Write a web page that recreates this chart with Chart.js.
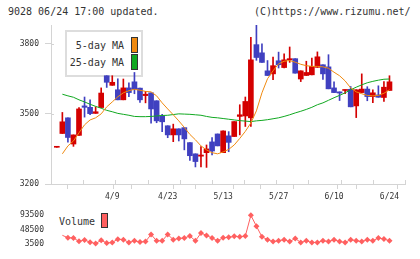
<!DOCTYPE html>
<html lang="en">
<head>
<meta charset="UTF-8">
<title>9028 chart</title>
<script src="https://cdn.jsdelivr.net/npm/chart.js"></script>
<style>
  body { margin: 0; width: 420px; height: 259px; overflow: hidden; position: relative; background: #fff;
         font-family: "DejaVu Sans Mono", monospace; color: #333; }
  .txt { position: absolute; font-size: 10px; line-height: 12px; white-space: nowrap; }
  .sw { position: absolute; box-sizing: border-box; border: 1px solid #333; }
  #legendBox { position: absolute; left: 65px; top: 30px; width: 78px; height: 47px; box-sizing: border-box; border: 2px solid #ddd; }
  #main { position: absolute; left: 0; top: 0; }
  #vol { position: absolute; left: 0; top: 200px; }
</style>
</head>
<body>
  <div class="txt" style="left:8px; top:6px;">9028 06/24 17:00 updated.</div>
  <div class="txt" style="left:254px; top:6px;">(C)https://www.rizumu.net/</div>

  <div id="legendBox"></div>
  <div class="txt" style="right:296px; top:40px;">5-day MA</div>
  <div class="sw" style="left:131px; top:37px; width:7px; height:16px; background:#f08a10;"></div>
  <div class="txt" style="right:296px; top:57px;">25-day MA</div>
  <div class="sw" style="left:131px; top:54px; width:7px; height:16px; background:#10a820;"></div>

  <div class="txt" style="left:59px; top:216px;">Volume</div>
  <div class="sw" style="left:101px; top:213px; width:7px; height:15px; background:#ff6060;"></div>

  <canvas id="main" width="420" height="205"></canvas>
  <canvas id="vol" width="420" height="59"></canvas>

<script>
// daily candles, oldest first
const open  = [3357,3416,3483,3371,3408,3534,3528,3502,3527,3663,3622,3603,3560,3611,3637,3610,3578,3590,3556,3491,
               3449,3410,3436,3441,3377,3329,3319,3334,3380,3414,3334,3406,3403,3489,3491,3483,3796,3761,3684,3671,
               3727,3698,3731,3736,3649,3664,3667,3699,3710,3701,3611,3594,3600,3605,3534,3591,3606,3574,3581,3570,3600];
const high  = [3358,3506,3483,3410,3527,3572,3560,3530,3611,3663,3663,3650,3649,3633,3677,3610,3596,3590,3556,3498,
               3449,3456,3436,3441,3377,3329,3360,3367,3399,3414,3427,3424,3467,3539,3572,3827,3880,3800,3728,3743,
               3764,3757,3786,3736,3684,3725,3739,3765,3710,3753,3637,3594,3603,3617,3603,3671,3616,3603,3620,3638,3663];
const low   = [3357,3416,3379,3361,3408,3486,3496,3502,3527,3613,3622,3560,3560,3574,3586,3549,3547,3460,3462,3424,
               3398,3381,3384,3346,3301,3273,3273,3271,3324,3363,3334,3338,3403,3410,3446,3446,3729,3720,3664,3646,
               3696,3696,3720,3674,3638,3664,3667,3699,3647,3607,3591,3557,3586,3530,3484,3591,3556,3548,3571,3553,3600];
const close = [3358,3466,3399,3410,3521,3528,3501,3509,3589,3635,3635,3560,3611,3591,3605,3560,3584,3521,3470,3466,
               3410,3436,3410,3393,3321,3296,3324,3350,3341,3363,3427,3378,3467,3496,3553,3731,3741,3720,3664,3706,
               3710,3731,3736,3674,3684,3677,3703,3744,3671,3607,3591,3589,3603,3530,3603,3606,3574,3590,3571,3614,3637];
const ma5   = [null,3329,3363,3384,3419,3453,3474,3483,3500,3530,3551,3573,3590,3599,3605,3601,3596,3594,3577,3547,
               3521,3496,3470,3442,3412,3389,3363,3346,3334,3329,3337,3348,3367,3395,3425,3461,3513,3590,3650,3684,
               3714,3725,3728,3721,3712,3706,3703,3703,3701,3695,3678,3663,3641,3611,3594,3586,3579,3577,3579,3588,3603];
const ma25  = [null,3584,3577,3571,3560,3551,3541,3532,3524,3515,3509,3502,3498,3494,3489,3488,3488,3489,3491,3493,
               3494,3497,3500,3499,3498,3496,3494,3489,3485,3483,3480,3477,3474,3471,3469,3467,3470,3472,3475,3479,
               3483,3489,3496,3504,3511,3519,3528,3539,3547,3558,3569,3579,3590,3603,3614,3624,3633,3639,3644,3648,3649];
const volume = [null,30000,22200,21500,10900,15400,8000,4000,14100,5750,7300,17700,16300,7300,12500,8700,10250,32750,12500,12500,
               32750,16300,19900,21500,27600,12500,37250,29800,21500,12500,22200,23750,26700,25300,27600,93500,59100,25300,16300,10250,
               12500,16300,10250,19900,7300,12500,7300,7300,12500,10250,16300,10250,7300,16300,12500,10250,16300,12500,21500,18600,12500];

const tickDays   = [10, 20, 30, 40, 50, 60];
const tickLabels = ['4/9', '4/23', '5/13', '5/27', '6/10', '6/24'];
const priceTicks = [3200, 3500, 3800];
const volTicks   = [3500, 48500, 93500];

const RED = '#d40000', BLUE = '#4040c0', GRID = '#d4d4d4';
const FONT = { family: 'DejaVu Sans Mono', size: 8 };
const xMin = -1.05, xMax = 62.8;
const gridPos = [];
for (let k = 0; k <= 11; k++) gridPos.push(xMin + k * (xMax - xMin) / 11);

const idx = open.map((_, i) => i);
const colors = idx.map(i => close[i] >= open[i] ? RED : BLUE);

// short tick marks also reach a bit inside the plot, like the original
const crossTicks = {
  id: 'crossTicks',
  afterDraw(chart) {
    const { ctx, chartArea, scales } = chart;
    ctx.save();
    ctx.strokeStyle = GRID;
    ctx.lineWidth = 1;
    if (scales.x.options.display) {
      gridPos.forEach(v => {
        const x = Math.round(scales.x.getPixelForValue(v)) + 0.5;
        ctx.beginPath(); ctx.moveTo(x, chartArea.bottom - 4); ctx.lineTo(x, chartArea.bottom); ctx.stroke();
      });
    }
    if (scales.y.options.border.display) {
      priceTicks.forEach(v => {
        const y = Math.round(scales.y.getPixelForValue(v)) + 0.5;
        ctx.beginPath(); ctx.moveTo(chartArea.left, y); ctx.lineTo(chartArea.left + 3, y); ctx.stroke();
      });
    }
    ctx.restore();
  }
};

new Chart(document.getElementById('main'), {
  type: 'bar',
  data: {
    datasets: [
      { type: 'line', label: '5-day MA', data: idx.map(i => ({ x: i, y: ma5[i] })),
        borderColor: '#f08a10', borderWidth: 1, pointRadius: 0, order: 0 },
      { type: 'line', label: '25-day MA', data: idx.map(i => ({ x: i, y: ma25[i] })),
        borderColor: '#10a820', borderWidth: 1, pointRadius: 0, order: 0 },
      { label: 'body', data: idx.map(i => ({ x: i, y: [open[i], close[i]] })),
        backgroundColor: colors, barThickness: 5, minBarLength: 1, grouped: false, order: 1 },
      { label: 'wick', data: idx.map(i => ({ x: i, y: [low[i], high[i]] })),
        backgroundColor: colors, barThickness: 1, grouped: false, order: 2 }
    ]
  },
  options: {
    responsive: false,
    animation: false,
    layout: { padding: { top: 25, right: 15, left: 0, bottom: 0 } },
    plugins: { legend: { display: false }, tooltip: { enabled: false } },
    scales: {
      x: {
        type: 'linear', min: xMin, max: xMax, offset: false,
        afterBuildTicks: s => {
          s.ticks = gridPos.map(v => ({ value: v })).concat(tickDays.map(v => ({ value: v })))
            .sort((a, b) => a.value - b.value);
        },
        afterFit: s => { s.height = 21; },
        ticks: {
          autoSkip: false, maxRotation: 0, padding: 3, font: FONT, color: '#333',
          callback: v => { const k = tickDays.indexOf(v); return k < 0 ? '' : tickLabels[k]; }
        },
        grid: {
          drawOnChartArea: false, tickLength: 5, lineWidth: 1,
          color: c => (c.tick && tickDays.includes(c.tick.value)) ? 'rgba(0,0,0,0)' : GRID
        },
        border: { color: GRID, width: 1 }
      },
      y: {
        min: 3200, max: 3880,
        afterBuildTicks: s => { s.ticks = priceTicks.map(v => ({ value: v })); },
        afterFit: s => { s.width = 51; },
        ticks: { padding: 6, font: FONT, color: '#333', callback: v => String(v) },
        grid: { drawOnChartArea: false, tickLength: 6, color: GRID },
        border: { color: GRID, width: 1 }
      }
    }
  },
  plugins: [crossTicks]
});

new Chart(document.getElementById('vol'), {
  type: 'line',
  data: {
    datasets: [{
      label: 'Volume', data: idx.map(i => ({ x: i, y: volume[i] })),
      borderColor: '#ff6060', borderWidth: 1,
      pointStyle: 'rectRot', pointRadius: c => c.dataIndex < 2 ? 0 : 3,
      pointBackgroundColor: '#ff6060', pointBorderWidth: 0
    }]
  },
  options: {
    responsive: false,
    animation: false,
    layout: { padding: { top: 4, right: 15, left: 0, bottom: 5 } },
    plugins: { legend: { display: false }, tooltip: { enabled: false } },
    scales: {
      x: { type: 'linear', min: xMin, max: xMax, display: false },
      y: {
        min: -7750, max: 104750,
        afterBuildTicks: s => { s.ticks = volTicks.map(v => ({ value: v })); },
        afterFit: s => { s.width = 51; },
        ticks: { padding: 7, font: FONT, color: '#333', callback: v => String(v) },
        grid: { display: false, drawTicks: false },
        border: { display: false }
      }
    }
  }
});
</script>
</body>
</html>
